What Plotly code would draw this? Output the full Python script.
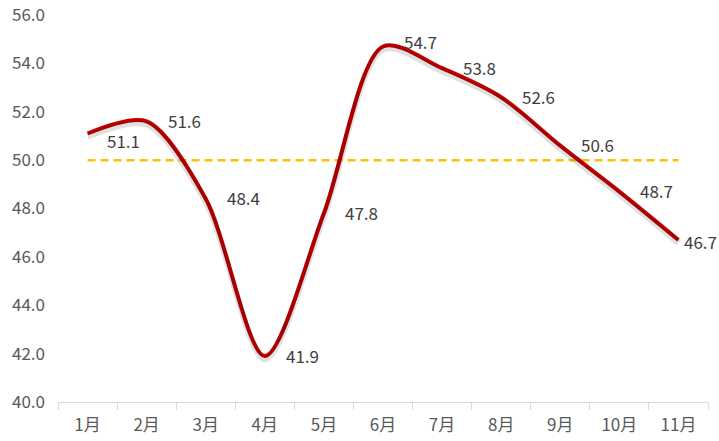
import plotly.graph_objects as go

months = ["1月", "2月", "3月", "4月", "5月", "6月", "7月", "8月", "9月", "10月", "11月"]
values = [51.1, 51.6, 48.4, 41.9, 47.8, 54.7, 53.8, 52.6, 50.6, 48.7, 46.7]
threshold = [50.0] * len(months)
y_ticks = [40, 42, 44, 46, 48, 50, 52, 54, 56]

FONT = "Noto Sans CJK SC"
TXT = "#404040"
AX = "#595959"

fig = go.Figure()

# soft drop shadow under the main line (same data on a slightly shifted overlay axis)
fig.add_trace(go.Scatter(
    x=months, y=values, mode="lines", xaxis="x", yaxis="y2",
    line=dict(color="rgba(0,0,0,0.12)", width=6, shape="spline", smoothing=0.85),
    hoverinfo="skip", showlegend=False,
))

# 50 reference line
fig.add_trace(go.Scatter(
    x=months, y=threshold, mode="lines",
    line=dict(color="#FFC000", width=2.5, dash="8px,5px"),
    hoverinfo="skip", showlegend=False,
))

# main series
fig.add_trace(go.Scatter(
    x=months, y=values, mode="lines",
    line=dict(color="#C00000", width=4, shape="spline", smoothing=0.85),
    showlegend=False,
))

# value labels, to the right of each point
shifts = {0: (17, -7), 5: (19, 5), 10: (4, -2)}
for i, (m, v) in enumerate(zip(months, values)):
    dx, dy = shifts.get(i, (19, 1))
    fig.add_annotation(
        x=m, y=v, text=f"{v:.1f}", showarrow=False,
        xanchor="left", yanchor="middle", xshift=dx, yshift=dy,
        font=dict(family=FONT, size=17, color=TXT),
    )

fig.update_layout(
    width=719, height=441,
    margin=dict(l=58, r=11, t=15, b=39),
    paper_bgcolor="white", plot_bgcolor="white",
    font=dict(family=FONT, size=17, color=AX),
    xaxis=dict(
        type="category", range=[-0.5, 10.5], automargin=False,
        showline=True, linecolor="#d9d9d9", linewidth=1,
        ticks="outside", tickson="boundaries", ticklen=7, tickcolor="#d9d9d9",
        showgrid=False, zeroline=False, ticklabelstandoff=8,
        tickfont=dict(family=FONT, size=17, color=AX),
    ),
    yaxis=dict(
        range=[40, 56], tickvals=y_ticks, ticktext=[f"{t:.1f}" for t in y_ticks],
        automargin=False,
        showgrid=False, zeroline=False, showline=False, ticks="",
        tickfont=dict(family=FONT, size=17, color=AX), ticklabelstandoff=12,
    ),
    yaxis2=dict(
        overlaying="y", range=[40.13, 56.13], visible=False,
    ),
)

fig.write_html("out.html")
